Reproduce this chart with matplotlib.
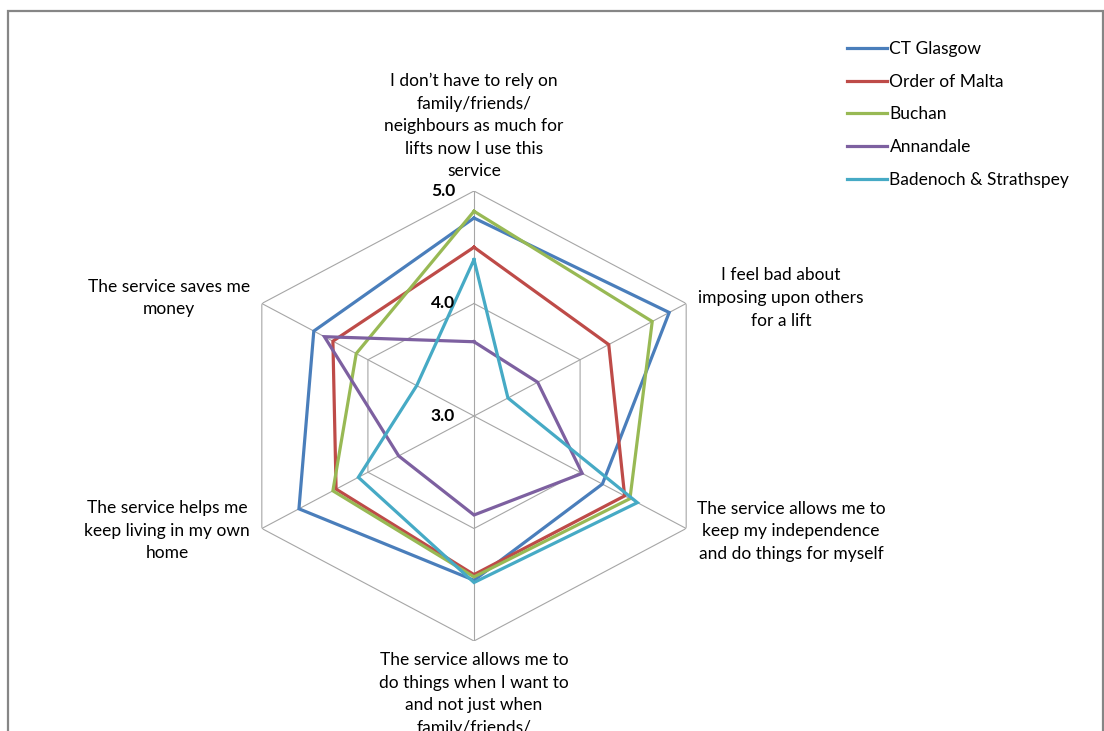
import numpy as np
import matplotlib
matplotlib.use('Agg')
import matplotlib.pyplot as plt
from matplotlib.patches import Rectangle

# ---- data ----
categories = [
    "I don\u2019t have to rely on\nfamily/friends/\nneighbours as much for\nlifts now I use this\nservice",
    "I feel bad about\nimposing upon others\nfor a lift",
    "The service allows me to\nkeep my independence\nand do things for myself",
    "The service allows me to\ndo things when I want to\nand not just when\nfamily/friends/",
    "The service helps me\nkeep living in my own\nhome",
    "The service saves me\nmoney",
]
series_names = ["CT Glasgow", "Order of Malta", "Buchan", "Annandale", "Badenoch & Strathspey"]
ct_glasgow = [4.76, 4.84, 4.21, 4.46, 4.65, 4.51]
order_of_malta = [4.50, 4.27, 4.42, 4.41, 4.30, 4.33]
buchan = [4.82, 4.68, 4.47, 4.43, 4.33, 4.11]
annandale = [3.66, 3.60, 4.02, 3.88, 3.71, 4.41]
badenoch = [4.39, 3.32, 4.54, 4.48, 4.09, 3.54]
series_values = [ct_glasgow, order_of_malta, buchan, annandale, badenoch]
colors = ["#4A7EBB", "#BE4B48", "#98B954", "#7D60A0", "#46AAC5"]
r_min, r_max = 3.0, 5.0
ring_values = [3.0, 4.0, 5.0]
ring_labels = ["3.0", "4.0", "5.0"]

FONT = "Lato"
FS = 12.5

W, H = 1104, 731
fig = plt.figure(figsize=(W / 100, H / 100), dpi=100)
fig.patch.set_facecolor("white")

def fx(px):
    return px / W

def fy(py):
    return 1 - py / H

# outer frame
fig.add_artist(Rectangle((fx(8), fy(760)), fx(1103) - fx(8), fy(11) - fy(760),
                         transform=fig.transFigure, fill=False,
                         edgecolor="#868686", lw=1.6))

cx, cy = 474, 416
ry, rx = 225, 245
ax = fig.add_axes([fx(cx - rx), fy(cy + ry), 2 * rx / W, 2 * ry / H], projection="polar")
ax.set_aspect("auto")
ax.set_theta_offset(np.pi / 2)
ax.set_theta_direction(-1)
ax.set_ylim(r_min, r_max)
ax.grid(False)
ax.spines["polar"].set_visible(False)
ax.set_xticks([])
ax.set_yticks([])
ax.patch.set_alpha(0)

n = len(categories)
theta = np.linspace(0, 2 * np.pi, n, endpoint=False)
closed = np.append(theta, theta[0])

grid_color = "#A6A6A6"
for v in ring_values[1:]:
    ax.plot(closed, [v] * (n + 1), color=grid_color, lw=0.8, zorder=1)
for t in theta:
    ax.plot([t, t], [r_min, r_max], color=grid_color, lw=0.8, zorder=1)

lines = []
for name, vals, c in zip(series_names, series_values, colors):
    ln, = ax.plot(closed, list(vals) + [vals[0]], color=c, lw=2.3, label=name,
                  zorder=3, solid_joinstyle="miter")
    lines.append(ln)

for v, lab in zip(ring_values, ring_labels):
    ax.annotate(lab, xy=(0, v), xytext=(-19, 0), textcoords="offset pixels",
                ha="right", va="center", fontsize=12.5, fontweight="bold",
                family=FONT, color="black", zorder=5)

# category labels (pixel centres); the bottom one runs past the lower edge as in the source
label_pos = [(474, 126), (781, 298), (791, 531), (474, 694), (167, 531), (169, 298)]
for text, (px, py) in zip(categories, label_pos):
    fig.text(fx(px), fy(py), text, ha="center", va="center", multialignment="center",
             fontsize=FS, family=FONT, color="black", linespacing=1.5)

fig.legend(handles=lines, labels=series_names, loc="upper left",
           bbox_to_anchor=(fx(840), fy(34)), frameon=False, prop={"family": FONT, "size": FS},
           handlelength=2.3, handletextpad=0.15, labelspacing=0.96, borderaxespad=0)

fig.savefig("out.png", dpi=100, facecolor="white")
